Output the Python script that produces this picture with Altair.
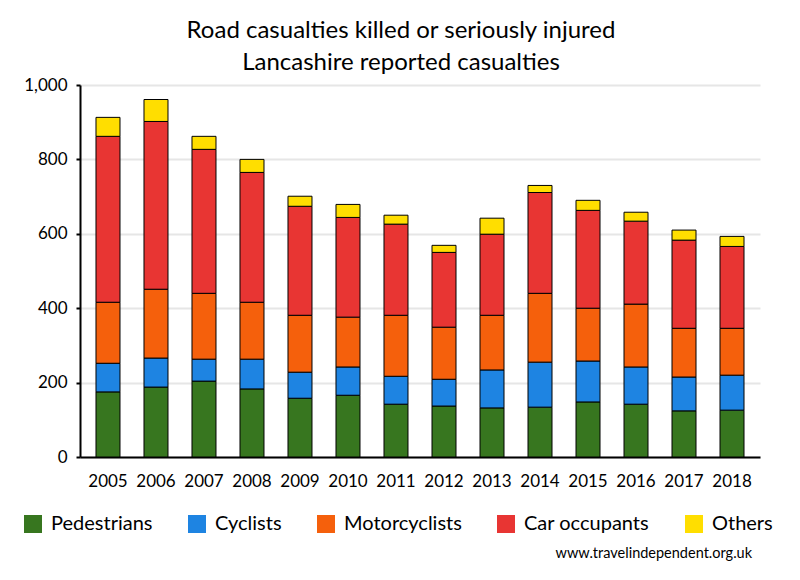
import altair as alt
import pandas as pd

years = [2005, 2006, 2007, 2008, 2009, 2010, 2011, 2012, 2013, 2014, 2015, 2016, 2017, 2018]
categories = ["Pedestrians", "Cyclists", "Motorcyclists", "Car occupants", "Others"]
pedestrians = [175, 188, 204, 183, 158, 166, 142, 137, 132, 134, 148, 142, 124, 126]
cyclists = [77, 78, 59, 80, 70, 76, 75, 72, 102, 121, 110, 100, 91, 94]
motorcyclists = [164, 185, 177, 153, 153, 134, 164, 140, 147, 185, 142, 169, 131, 126]
car_occupants = [446, 451, 387, 349, 293, 268, 245, 201, 218, 271, 263, 223, 237, 220]
others = [51, 59, 35, 35, 27, 35, 24, 19, 43, 19, 27, 24, 27, 27]
colors = ["#37761F", "#1E84E2", "#F5600C", "#E83533", "#FFDE00"]
title_lines = ["Road casualties killed or seriously injured", "Lancashire reported casualties"]
footer = "www.travelindependent.org.uk"
y_ticks = [0, 200, 400, 600, 800, 1000]

series = [pedestrians, cyclists, motorcyclists, car_occupants, others]
rows = []
for idx, (cat, vals) in enumerate(zip(categories, series)):
    for yr, v in zip(years, vals):
        rows.append({"year": str(yr), "type": cat, "value": v, "idx": idx})
df = pd.DataFrame(rows)

FONT = "Lato"

bars = alt.Chart(df).mark_bar(stroke="black", strokeWidth=1).encode(
    x=alt.X(
        "year:O",
        title=None,
        scale=alt.Scale(paddingInner=0.5, paddingOuter=0.333),
        axis=alt.Axis(
            labelAngle=0, ticks=False, grid=False, domainColor="black", domainWidth=2,
            labelFontSize=17, labelFont=FONT, labelColor="black", labelPadding=16,
        ),
    ),
    y=alt.Y(
        "value:Q",
        stack="zero",
        title=None,
        scale=alt.Scale(domain=[0, 1000], nice=False),
        axis=alt.Axis(
            values=y_ticks, format=",d", domainColor="black", domainWidth=2,
            tickColor="black", tickWidth=2, tickSize=4, labelPadding=9,
            labelFontSize=17, labelFont=FONT, labelColor="black",
            gridColor="#e6e6e6", gridWidth=2,
        ),
    ),
    color=alt.Color(
        "type:N",
        scale=alt.Scale(domain=categories, range=colors),
        legend=alt.Legend(
            title=None, orient="none", legendX=-57, legendY=429, direction="horizontal",
            columns=5, symbolType="square", symbolSize=324, symbolStrokeWidth=0,
            symbolOpacity=1, labelFontSize=20, labelFont=FONT, labelColor="black",
            labelOffset=8, columnPadding=34, labelLimit=300,
        ),
    ),
    order=alt.Order("idx:Q", sort="ascending"),
)

foot = alt.Chart(pd.DataFrame({"t": [footer]})).mark_text(
    align="right", baseline="alphabetic", fontSize=14.5, font=FONT, color="black"
).encode(x=alt.value(672), y=alt.value(473), text="t:N")

chart = alt.layer(bars, foot).properties(
    width=680,
    height=372,
    autosize=alt.AutoSizeParams(type="none"),
    padding={"left": 72, "top": 77, "right": 32, "bottom": 114},
    background="white",
    title=alt.TitleParams(
        text=title_lines, fontSize=24, font=FONT, fontWeight="normal", color="black",
        anchor="middle", dx=-19, lineHeight=32, offset=1,
    ),
).configure_view(stroke=None)

chart.save("out.html", embed_options={"renderer": "svg", "actions": False})
